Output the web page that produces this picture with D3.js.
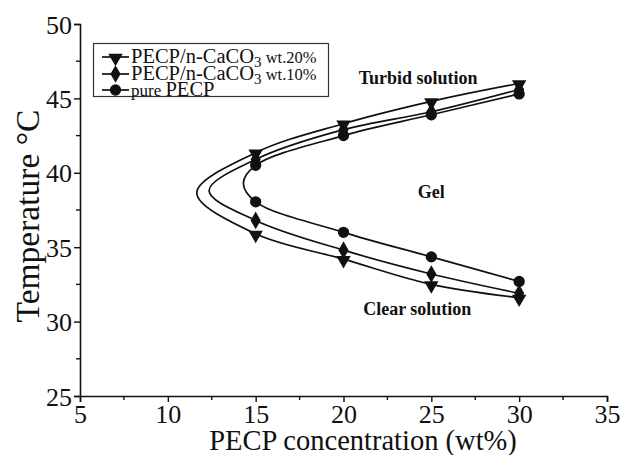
<!DOCTYPE html>
<html><head><meta charset="utf-8">
<script src="https://cdn.jsdelivr.net/npm/d3@7"></script>
<style>body{margin:0;background:#fff}svg{display:block}
text{font-family:"Liberation Serif","Times New Roman",Times,"DejaVu Serif",serif}</style>
</head><body><svg id="c" width="623" height="455"></svg>
<script>
// ---- data ----
const concentrations = [15, 20, 25, 30];
const seriesNames = ["20%", "10%", "pure"];
const upper20 = [41.35, 43.3, 44.8, 46.0];
const lower20 = [35.9, 34.2, 32.5, 31.6];
const upper10 = [40.9, 42.9, 44.1, 45.6];
const lower10 = [36.8, 34.8, 33.2, 31.9];
const upperPure = [40.5, 42.5, 43.9, 45.3];
const lowerPure = [38.05, 36.0, 34.35, 32.7];
// estimated turning point of each fitted curve (concentration, temperature)
const apexConc = [11.65, 12.35, 14.3];
const apexTemp = [38.65, 38.8, 39.3];
const xTicks = [5, 10, 15, 20, 25, 30, 35];
const yTicks = [25, 30, 35, 40, 45, 50];
const legendLabels = [
  {main: "PECP/n-CaCO", sub: "3", small: " wt.20%"},
  {main: "PECP/n-CaCO", sub: "3", small: " wt.10%"},
  {pre: "pure ", main: "PECP"}
];
const regionLabels = [
  {text: "Turbid solution", c: 24.25, t: 46.0},
  {text: "Gel", c: 25.0, t: 38.3},
  {text: "Clear solution", c: 24.2, t: 30.45}
];

const svg = d3.select("#c");
const x = d3.scaleLinear().domain([5, 35]).range([80, 607]);
const y = d3.scaleLinear().domain([25, 50]).range([396, 24]);
const ink = "#111";
const serif = '"Liberation Serif","Times New Roman",Times,"DejaVu Serif",serif';

// axes
const xAxis = d3.axisBottom(x).tickValues(xTicks).tickSize(6).tickPadding(1).tickFormat(d3.format("d"));
const gx = svg.append("g").attr("transform", `translate(0,${y(25)})`).call(xAxis);
const yAxis = d3.axisLeft(y).tickValues(yTicks).tickSize(6).tickPadding(2).tickFormat(d3.format("d"));
const gy = svg.append("g").attr("transform", `translate(${x(5)},0)`).call(yAxis);
[gx, gy].forEach(g => {
  g.attr("font-family", null);
  g.select(".domain").attr("stroke", ink).attr("stroke-width", 1.6);
  g.selectAll(".tick line").attr("stroke", ink).attr("stroke-width", 1.4);
  g.selectAll(".tick text").attr("fill", ink).style("font-family", serif).attr("font-size", 26);
});
gx.selectAll(".tick text").attr("dy", "0.76em");
gy.selectAll(".tick text").attr("dy", "0.35em");
// minor ticks
const xMinor = d3.range(7.5, 35, 5);
svg.append("g").selectAll("line").data(xMinor).join("line")
  .attr("x1", d => x(d)).attr("x2", d => x(d)).attr("y1", y(25)).attr("y2", y(25) + 4)
  .attr("stroke", ink).attr("stroke-width", 1.4);
const yMinor = d3.range(27.5, 50, 5);
svg.append("g").selectAll("line").data(yMinor).join("line")
  .attr("y1", d => y(d)).attr("y2", d => y(d)).attr("x1", x(5)).attr("x2", x(5) - 4)
  .attr("stroke", ink).attr("stroke-width", 1.4);

// axis titles
svg.append("text").attr("x", 363).attr("y", 450)
  .attr("text-anchor", "middle").style("font-family", serif).attr("font-size", 28.5).attr("fill", ink)
  .text("PECP concentration (wt%)");
svg.append("text").attr("transform", `translate(39,${216}) rotate(-90)`)
  .attr("text-anchor", "middle").style("font-family", serif).attr("font-size", 33.5).attr("fill", ink)
  .text("Temperature \u00B0C");

// series
const uppers = [upper20, upper10, upperPure];
const lowers = [lower20, lower10, lowerPure];
const symbols = [
  d3.symbol().type(d3.symbolTriangle).size(90),
  d3.symbol().type(d3.symbolDiamond).size(90),
  d3.symbol().type(d3.symbolCircle).size(100)
];
const symRot = [180, 0, 0];
const line = d3.line().x(d => x(d[0])).y(d => y(d[1])).curve(d3.curveCatmullRom.alpha(0.5));

seriesNames.forEach((name, i) => {
  const lowPts = concentrations.map((c, k) => [c, lowers[i][k]]).reverse();
  const upPts = concentrations.map((c, k) => [c, uppers[i][k]]);
  const path = [...lowPts, [apexConc[i], apexTemp[i]], ...upPts];
  svg.append("path").attr("d", line(path)).attr("fill", "none")
    .attr("stroke", ink).attr("stroke-width", 1.7);
});
seriesNames.forEach((name, i) => {
  const pts = concentrations.flatMap((c, k) => [[c, uppers[i][k]], [c, lowers[i][k]]]);
  svg.append("g").selectAll("path").data(pts).join("path")
    .attr("d", symbols[i])
    .attr("transform", d => `translate(${x(d[0])},${y(d[1]) + (i === 0 ? 1 : 0)}) rotate(${symRot[i]})`)
    .attr("fill", ink);
});

// region labels
regionLabels.forEach(r => {
  svg.append("text").attr("x", x(r.c)).attr("y", y(r.t)).attr("text-anchor", "middle")
    .style("font-family", serif).attr("font-weight", "bold").attr("font-size", 18).attr("fill", ink)
    .text(r.text);
});

// legend
const lg = svg.append("g");
lg.append("rect").attr("x", 93.5).attr("y", 43.5).attr("width", 235).attr("height", 53)
  .attr("fill", "#fff").attr("stroke", "#333").attr("stroke-width", 1.2);
const rowY = [57, 74, 90];
legendLabels.forEach((lab, i) => {
  const yy = rowY[i];
  lg.append("line").attr("x1", 102).attr("x2", 129).attr("y1", yy).attr("y2", yy)
    .attr("stroke", ink).attr("stroke-width", 1.7);
  lg.append("path").attr("d", symbols[i])
    .attr("transform", `translate(115.5,${yy + (i === 0 ? 1 : 0)}) rotate(${symRot[i]})`).attr("fill", ink);
  const t = lg.append("text").attr("x", 131).attr("y", yy + 6).style("font-family", serif)
    .attr("fill", ink).attr("font-size", 20.5);
  if (lab.pre) t.append("tspan").attr("font-size", 17).text(lab.pre);
  t.append("tspan").text(lab.main);
  if (lab.sub) t.append("tspan").attr("font-size", 15).attr("dy", 4).text(lab.sub);
  if (lab.small) t.append("tspan").attr("font-size", 16.5).attr("dy", -4).text(lab.small);
});
</script></body></html>
